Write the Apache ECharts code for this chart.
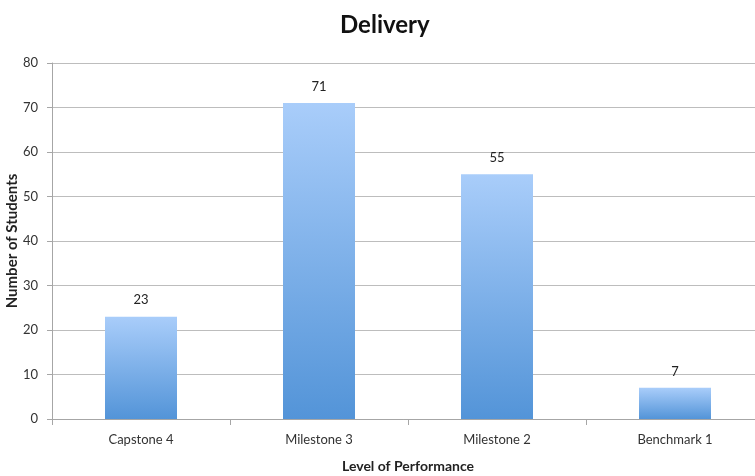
<!DOCTYPE html>
<html>
<head>
<meta charset="utf-8">
<script src="https://cdn.jsdelivr.net/npm/echarts@6/dist/echarts.min.js"></script>
<style>
  html, body { margin: 0; padding: 0; background: #fff; }
  #chart { width: 755px; height: 476px; }
</style>
</head>
<body>
<div id="chart"></div>
<script>
// Delivery results by level of performance
const categories = ['Capstone 4', 'Milestone 3', 'Milestone 2', 'Benchmark 1'];
const students = [23, 71, 55, 7];
const yTicks = { min: 0, max: 80, interval: 10 };

const font = 'Lato, "Open Sans", sans-serif';
const chart = echarts.init(document.getElementById('chart'));

chart.setOption({
  animation: false,
  title: {
    text: 'Delivery',
    left: 335,
    top: 8,
    textStyle: { fontFamily: font, fontSize: 24, fontWeight: 'bold', color: '#111' }
  },
  grid: { left: 52, right: -9, top: 63, bottom: 57, outerBoundsMode: 'none' },
  xAxis: {
    type: 'category',
    data: categories,
    name: 'Level of Performance',
    nameLocation: 'middle',
    nameGap: 40,
    nameMoveOverlap: false,
    nameTextStyle: { fontFamily: font, fontSize: 14, fontWeight: 'bold', color: '#222' },
    axisLine: { lineStyle: { color: '#a6a6a6' } },
    axisTick: { show: true, length: 6, lineStyle: { color: '#a6a6a6' } },
    axisLabel: { fontFamily: font, fontSize: 13, color: '#333', margin: 14 }
  },
  yAxis: {
    type: 'value',
    min: yTicks.min,
    max: yTicks.max,
    interval: yTicks.interval,
    name: 'Number of Students',
    nameLocation: 'middle',
    nameGap: 32,
    nameMoveOverlap: false,
    nameTextStyle: { fontFamily: font, fontSize: 15, fontWeight: 'bold', color: '#222' },
    axisLine: { show: true, lineStyle: { color: '#a6a6a6' } },
    axisTick: { show: true, length: 5, lineStyle: { color: '#a6a6a6' } },
    axisLabel: { fontFamily: font, fontSize: 13, color: '#333', margin: 14 },
    splitLine: { lineStyle: { color: '#bdbdbd', width: 1 } }
  },
  series: [{
    type: 'bar',
    data: students,
    barWidth: 72,
    itemStyle: {
      color: new echarts.graphic.LinearGradient(0, 0, 0, 1, [
        { offset: 0, color: '#a9cdfa' },
        { offset: 1, color: '#5394d8' }
      ])
    },
    label: {
      show: true,
      position: 'top',
      distance: 10,
      fontFamily: font,
      fontSize: 13,
      color: '#222'
    }
  }]
});
</script>
</body>
</html>
